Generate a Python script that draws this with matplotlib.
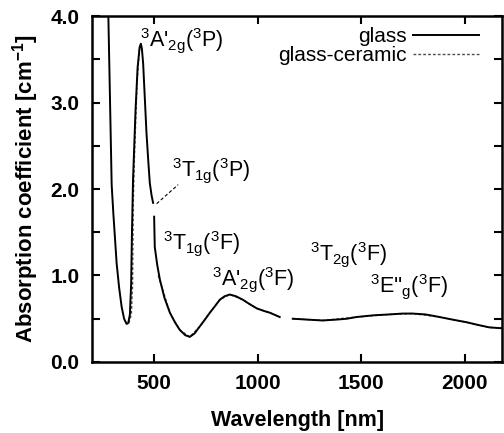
import numpy as np
import matplotlib
matplotlib.use('Agg')
import matplotlib.pyplot as plt

plt.rcParams['font.family'] = ['Liberation Sans', 'DejaVu Sans']
plt.rcParams['mathtext.fontset'] = 'custom'
plt.rcParams['mathtext.rm'] = 'Liberation Sans'
plt.rcParams['mathtext.bf'] = 'Liberation Sans:bold'
plt.rcParams['mathtext.default'] = 'regular'

# glass spectrum (nan = break in the recorded curve)
glass_nm = [270, 279, 287, 295, 303, 319, 331, 343, 355, 367, 375, 383, 389, 393, 398, 410, 420,
            430, 436, 441, 447, 455, 463, 471, 479, 488, 495, np.nan,
            500, 503, 515, 528, 550, 576, 600, 624, 650, 672, 695, 720, 745,
            769, 795, 817, 840, 865, 895, 928, 960, 995, 1030, 1058, 1106, np.nan,
            1169, 1240, 1313, 1380, 1430, 1477, 1560, 1636, 1700, 1747, 1810,
            1877, 1940, 2007, 2060, 2118, 2180]
glass_abs = [4.6, 4.0, 3.03, 2.05, 1.72, 1.14, 0.86, 0.64, 0.50, 0.44, 0.45, 0.55, 0.9, 1.5, 2.1, 2.9, 3.4,
             3.64, 3.68, 3.62, 3.45, 3.05, 2.65, 2.35, 2.07, 1.92, 1.84, np.nan,
             1.68, 1.33, 1.12, 0.95, 0.74, 0.57, 0.46, 0.37, 0.31, 0.29, 0.33, 0.41, 0.49,
             0.57, 0.65, 0.72, 0.76, 0.78, 0.76, 0.72, 0.67, 0.62, 0.59, 0.57, 0.52, np.nan,
             0.50, 0.49, 0.48, 0.49, 0.50, 0.52, 0.54, 0.55, 0.56, 0.56, 0.55,
             0.52, 0.49, 0.46, 0.43, 0.40, 0.39]

# glass-ceramic spectrum (largely hidden under the glass curve)
gc_nm = [378, 390, 396, 399, 404, 417, 428, 436, np.nan,
         520, 576, 624, 672, 720, 769, 817, 865, 928, 995, 1058, 1106, np.nan,
         1169, 1313, 1477, 1636, 1747, 1877, 2007, 2118, 2180]
gc_abs = [0.45, 0.55, 0.9, 1.8, 2.3, 3.2, 3.6, 3.68, np.nan,
          1.0, 0.57, 0.37, 0.29, 0.41, 0.57, 0.72, 0.78, 0.72, 0.62, 0.57, 0.52, np.nan,
          0.50, 0.48, 0.52, 0.55, 0.56, 0.52, 0.46, 0.40, 0.39]

fig = plt.figure(figsize=(5.04, 4.33), dpi=100)
ax = fig.add_axes([0.1825, 0.164, 0.814, 0.799])

ax.plot(gc_nm, gc_abs, color='0.3', lw=1.0, ls=(0, (2, 1.5)), label='glass-ceramic')
ax.plot(glass_nm, glass_abs, color='black', lw=1.4, label='glass')

ax.set_xlim(200, 2180)
ax.set_ylim(0, 4.0)
ax.set_xticks([500, 1000, 1500, 2000])
ax.set_yticks(np.arange(0, 4.01, 0.5))
ax.set_yticklabels(['0.0', '', '1.0', '', '2.0', '', '3.0', '', '4.0'])
ax.tick_params(direction='in', length=6, width=1.5, top=True, right=True,
               labelsize=15)
ax.tick_params(axis='y', pad=9)
ax.tick_params(axis='x', pad=9)
for lab in ax.get_xticklabels() + ax.get_yticklabels():
    lab.set_fontweight('bold')
for sp in ax.spines.values():
    sp.set_linewidth(1.8)

ax.set_xlabel('Wavelength [nm]', fontsize=15.5, fontweight='bold', labelpad=12)
ax.set_ylabel(r'Absorption coefficient [cm$^{\mathbf{-1}}$]', fontsize=16,
              fontweight='bold', labelpad=7)

lbl = dict(fontsize=15.5, va='baseline', ha='left')
ax.text(431, 3.645, r"$^3$A'$_{2g}$($^3$P)", **lbl)
ax.text(584, 2.14, r"$^3$T$_{1g}$($^3$P)", **lbl)
ax.text(542, 1.30, r"$^3$T$_{1g}$($^3$F)", **lbl)
ax.text(778, 0.89, r"$^3$A'$_{2g}$($^3$F)", **lbl)
ax.text(1250, 1.18, r"$^3$T$_{2g}$($^3$F)", **lbl)
ax.text(1544, 0.80, r"$^3$E''$_{g}$($^3$F)", **lbl)
ax.plot([512, 616], [1.83, 2.05], color='black', lw=0.8, ls=(0, (3, 2)))

h, l = ax.get_legend_handles_labels()
ax.legend(h[::-1], l[::-1], loc='upper right', bbox_to_anchor=(0.944, 0.968),
          frameon=False, markerfirst=False, handlelength=3.2, fontsize=15,
          borderpad=0, borderaxespad=0, labelspacing=0.0, handletextpad=0.3)

fig.savefig('out.png', dpi=100)
